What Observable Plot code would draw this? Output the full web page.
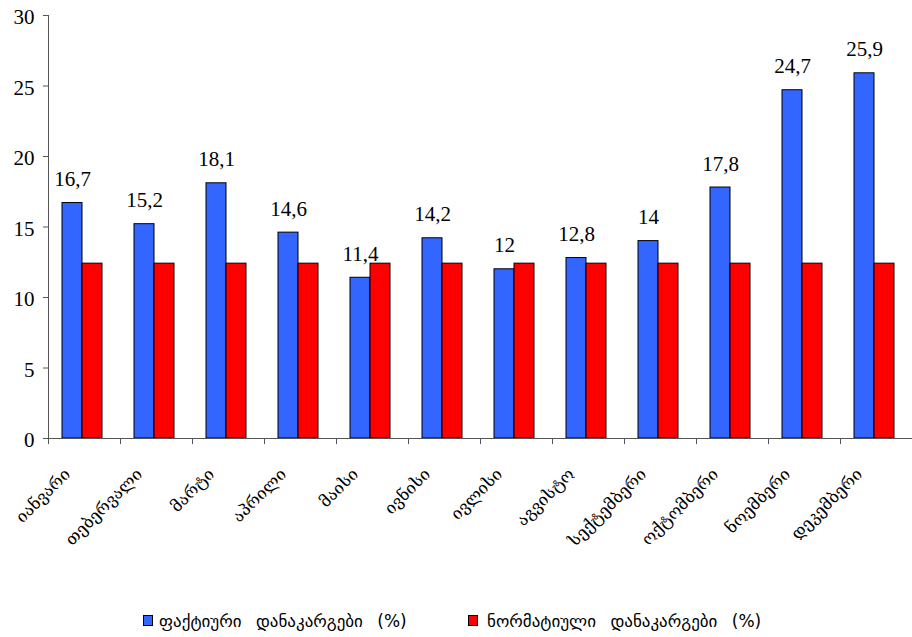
<!DOCTYPE html>
<html>
<head>
<meta charset="utf-8">
<script src="https://cdn.jsdelivr.net/npm/d3@7"></script>
<script src="https://cdn.jsdelivr.net/npm/@observablehq/plot@0.6"></script>
<style>
  body { margin: 0; background: #fff; }
  #wrap { position: relative; width: 912px; height: 637px; }
  svg text { font-family: "Liberation Serif", "DejaVu Serif", serif !important; }
  #legend { position: absolute; top: 0; left: 0; width: 912px; height: 637px; pointer-events: none; font-family: "DejaVu Sans", sans-serif; font-size: 17px; color: #000; }
  .sw { position: absolute; top: 615px; width: 8px; height: 9px; border: 1px solid #000; }
  .lt { position: absolute; top: 611px; white-space: pre; word-spacing: 9px; line-height: 20px; }
</style>
</head>
<body>
<div id="wrap">
  <div id="chart"></div>
  <div id="legend"></div>
</div>
<script>
const months = ["იანვარი","თებერვალი","მარტი","აპრილი","მაისი","ივნისი","ივლისი","აგვისტო","სექტემბერი","ოქტომბერი","ნოემბერი","დეკემბერი"];
const seriesNames = ["ფაქტიური დანაკარგები (%)", "ნორმატიული დანაკარგები (%)"];
const seriesColors = ["#3366FF", "#FF0000"];
const actual = [16.7, 15.2, 18.1, 14.6, 11.4, 14.2, 12.0, 12.8, 14.0, 17.8, 24.7, 25.9];
const normative = [12.4, 12.4, 12.4, 12.4, 12.4, 12.4, 12.4, 12.4, 12.4, 12.4, 12.4, 12.4];
const yTicks = [0, 5, 10, 15, 20, 25, 30];

const table = [];
months.forEach((m, i) => {
  table.push({month: m, series: seriesNames[0], value: actual[i]});
  table.push({month: m, series: seriesNames[1], value: normative[i]});
});
const actualRows = table.filter(d => d.series === seriesNames[0]);
const fmt = v => String(v).replace(".", ",");

const chart = Plot.plot({
  width: 912,
  height: 560,
  marginLeft: 48,
  marginRight: 0,
  marginTop: 15,
  marginBottom: 122,
  style: {background: "#fff"},
  fx: {domain: months, padding: 0, axis: null},
  x: {domain: seriesNames, paddingInner: 0, paddingOuter: 0.73, align: 0.45, axis: null},
  y: {domain: [0, 30], axis: null},
  color: {domain: seriesNames, range: seriesColors},
  marks: [
    Plot.barY(table, {fx: "month", x: "series", y: "value", fill: "series", stroke: "#000", strokeWidth: 1}),
    Plot.text(actualRows, {fx: "month", x: "series", y: "value", text: d => fmt(d.value), dy: -17, lineAnchor: "bottom", fontSize: 21, fill: "#000"}),
    Plot.ruleY([0], {stroke: "#555", strokeWidth: 1}),
    Plot.frame({anchor: "left", facetAnchor: "left", stroke: "#555"}),
    Plot.axisY({ticks: yTicks, tickSize: 5, tickFormat: () => "", label: null, stroke: "#555"}),
    Plot.axisY({ticks: yTicks, tickSize: 0, tickPadding: 14, dy: 2, fontSize: 21, label: null, color: "#000"}),
    Plot.axisFx({anchor: "bottom", tickSize: 6, tickFormat: () => "", dx: -36, label: null, stroke: "#555"}),
    Plot.axisFx({anchor: "bottom", tickSize: 0, tickRotate: -45, tickPadding: 18, fontSize: 16.5, label: null, dx: -17, dy: 15})
  ]
});
document.getElementById("chart").appendChild(chart);

const legend = document.getElementById("legend");
const swLefts = [143, 468];
const textLefts = [159, 487];
seriesNames.forEach((s, i) => {
  const sw = document.createElement("div");
  sw.className = "sw";
  sw.style.left = swLefts[i] + "px";
  sw.style.background = seriesColors[i];
  legend.appendChild(sw);
  const t = document.createElement("div");
  t.className = "lt";
  t.style.left = textLefts[i] + "px";
  t.textContent = s;
  legend.appendChild(t);
});
</script>
</body>
</html>
